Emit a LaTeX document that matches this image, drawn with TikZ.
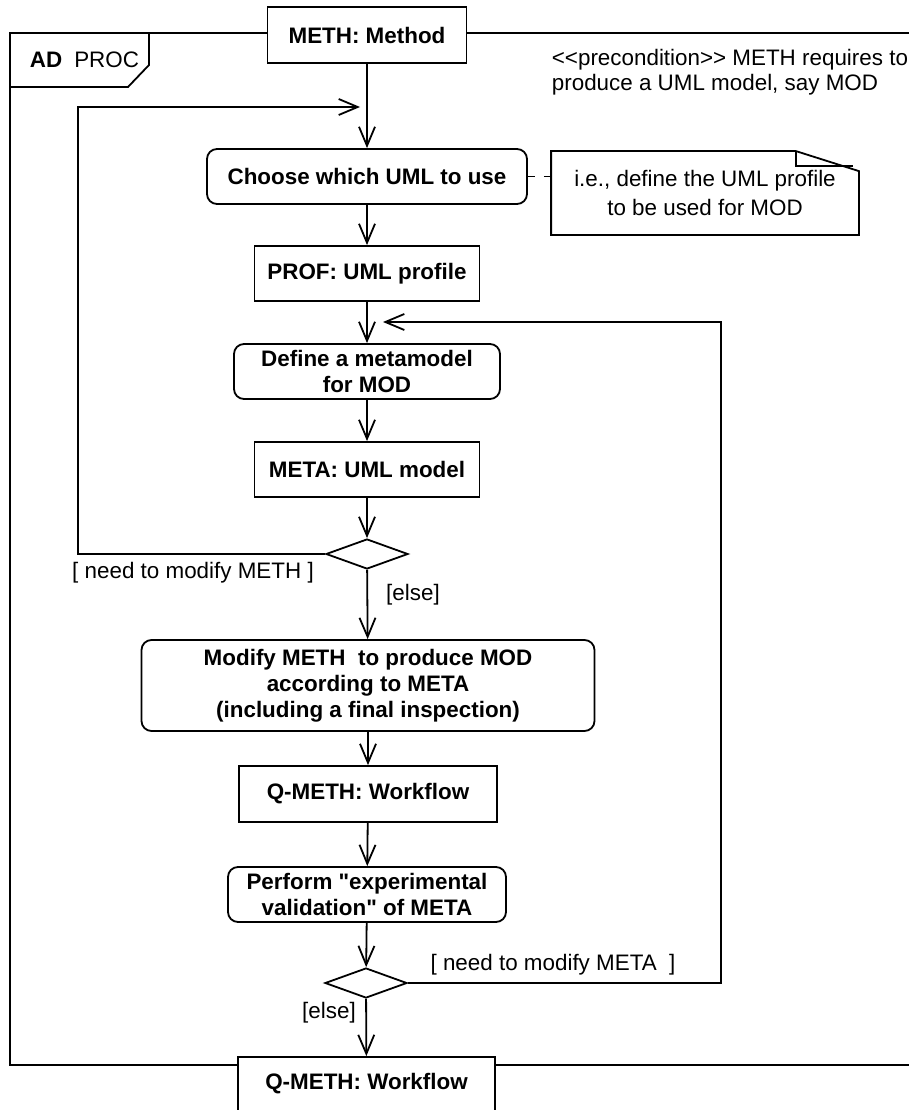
\documentclass[tikz,border=0pt]{standalone}
\usepackage{fontspec}
\setmainfont{Liberation Sans}[Ligatures=TeXOff]
\usetikzlibrary{arrows.meta,shapes.geometric,calc}

\begin{document}
\begin{tikzpicture}[x=1pt, y=-1pt, line width=1.8pt,
    every node/.style={font=\fontsize{22.4}{26}\selectfont, inner sep=0pt},
    objbox/.style={draw, fill=white, font=\fontsize{22.4}{26}\selectfont\bfseries, minimum height=55pt},
    actbox/.style={draw, fill=white, rounded corners=10pt, align=center, font=\fontsize{22.4}{26}\selectfont\bfseries, minimum height=55pt},
    decision/.style={draw, fill=white, diamond, minimum width=82pt, minimum height=30pt},
    flow/.style={-{Straight Barb[length=19pt,width=16pt]}}]
    \useasboundingbox (0,0) rectangle (908,1110);

    % Activity frame
    \draw (920,33) -- (10,33) -- (10,1065) -- (920,1065);
    \draw (149,33) -- (149,65) -- (128,87) -- (10,87);
    \node[anchor=west] (tag) at (29,60) {\textbf{AD}\hspace{12pt}PROC};
    \node[anchor=west, align=left, font=\fontsize{22.4}{25}\selectfont] (pre) at (551,72.5) {<{}<precondition>{}> METH requires to\\produce a UML model, say MOD};

    % Nodes of the flow
    \node[objbox, minimum width=199pt, minimum height=56pt] (meth) at (367,35) {METH: Method};
    \node[actbox, minimum width=320pt] (choose) at (367,176.5) {Choose which UML to use};
    \node[minimum width=306pt, minimum height=82pt, align=center, font=\fontsize{22.4}{29}\selectfont] (note) at (705,193) {i.e., define the UML profile\\to be used for MOD};
    \node[objbox, minimum width=225pt] (prof) at (367,273.5) {PROF: UML profile};
    \node[actbox, minimum width=266pt] (defmeta) at (367,371.5) {Define a metamodel\\for MOD};
    \node[objbox, minimum width=225pt] (meta) at (367,469.5) {META: UML model};
    \node[decision] (dec1) at (367,554) {};
    \node[actbox, minimum width=453pt, minimum height=91pt] (modify) at (368,685.5) {Modify METH~ to produce MOD\\according to META\\(including a final inspection)};
    \node[objbox, minimum width=258pt, minimum height=56pt] (qmeth) at (368,794) {Q-METH: Workflow};
    \node[actbox, minimum width=278pt] (perform) at (367,894.5) {Perform "experimental\\validation" of META};
    \node[decision] (dec2) at (366,983) {};
    \node[objbox, minimum width=257pt, minimum height=54pt] (qout) at (366.5,1084) {Q-METH: Workflow};

    % Note outline with folded corner
    \draw (note.north west) -- ($(note.north east)+(-63,0)$) -- ($(note.north east)+(0,20)$)
        -- (note.south east) -- (note.south west) -- cycle;
    \draw ($(note.north east)+(-63,0)$) -- ($(note.north east)+(-63,15)$) -- ($(note.north east)+(-6,15)$);
    \draw[dash pattern=on 7pt off 9pt] (choose.east) -- (choose.east -| note.west);

    % Control flow
    \draw[flow] (meth) -- (choose);
    \draw[flow] (choose) -- (prof);
    \draw[flow] (prof) -- (defmeta);
    \draw[flow] (defmeta) -- (meta);
    \draw[flow] (meta) -- (dec1);
    \draw[flow] (dec1) -- (modify);
    \draw[flow] (modify) -- (qmeth);
    \draw[flow] (qmeth) -- (perform);
    \draw[flow] (perform) -- (dec2);
    \draw[flow] (dec2) -- (qout);

    % Loops back
    \coordinate (backL) at (360,107);
    \coordinate (backR) at (383,322);
    \draw[flow] (dec1.west) -| (78,107) -- (backL);
    \draw[flow] (dec2.east) -| (721,322) -- (backR);

    % Guards
    \node (g1) at (193,573) {[ need to modify METH ]};
    \node (g2) at (413,595) {[else]};
    \node (g3) at (553,965) {[ need to modify META~ ]};
    \node (g4) at (329,1013) {[else]};
\end{tikzpicture}
\end{document}
